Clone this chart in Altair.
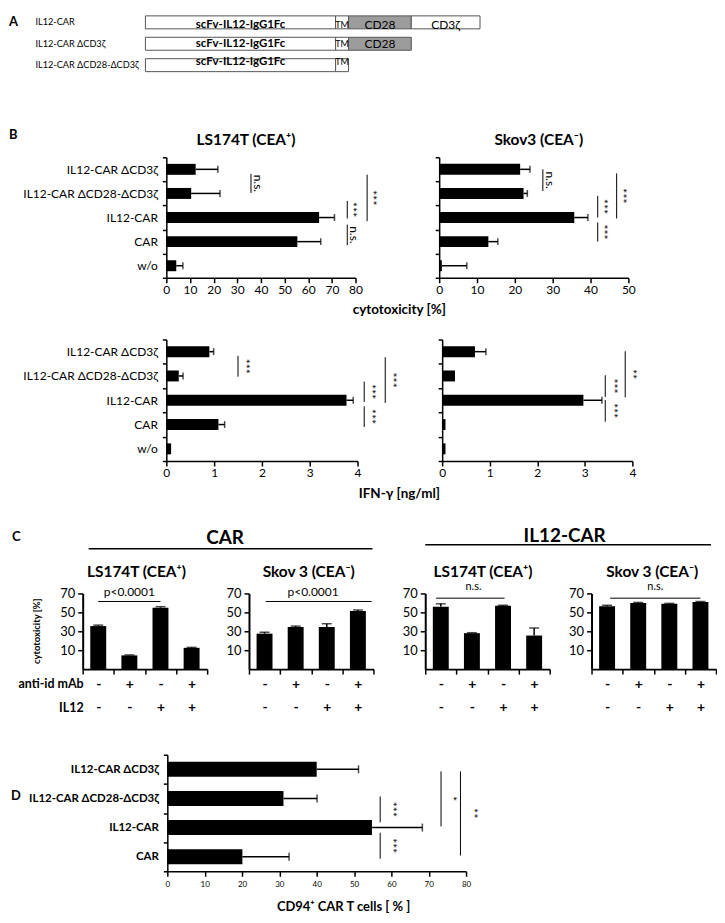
import altair as alt
import pandas as pd

FONT = "Lato"
W, H = 712, 902

# ---------------- Panel A : construct maps ----------------
a_constructs = ["IL12-CAR", "IL12-CAR ΔCD3ζ", "IL12-CAR ΔCD28-ΔCD3ζ"]
a_domains = ["scFv-IL12-IgG1Fc", "TM", "CD28", "CD3ζ"]
a_domain_start = [0, 191, 204, 267]
a_domain_end = [191, 204, 267, 336]
a_domains_per_construct = [4, 3, 2]
a_domain_fill = ["#ffffff", "#ffffff", "#9c9c9c", "#ffffff"]

# ---------------- Panel B : cytotoxicity / IFN-gamma ----------------
b_groups = ["IL12-CAR ΔCD3ζ", "IL12-CAR ΔCD28-ΔCD3ζ", "IL12-CAR", "CAR", "w/o"]
ls_cyto_mean = [12.4, 10.5, 64.6, 55.4, 4.2]
ls_cyto_err = [9.4, 12.2, 6.5, 9.9, 2.8]
skov_cyto_mean = [21.4, 22.3, 35.7, 13.0, 0.7]
skov_cyto_err = [2.6, 1.0, 3.6, 2.5, 6.6]
ls_ifn_mean = [0.90, 0.26, 3.77, 1.09, 0.10]
ls_ifn_err = [0.09, 0.09, 0.14, 0.13, 0.0]
skov_ifn_mean = [0.69, 0.27, 2.97, 0.07, 0.07]
skov_ifn_err = [0.23, 0.0, 0.39, 0.0, 0.0]

# significance brackets (x in data units, y in group units counted from the top)
ls_cyto_sig_x = [35.8, 76.5, 76.5, 84.9]
ls_cyto_sig_y1 = [0.69, 1.81, 2.79, 0.72]
ls_cyto_sig_y2 = [1.48, 2.54, 3.65, 2.65]
ls_cyto_sig_label = ["n.s.", "***", "n.s.", "***"]
ls_cyto_sig_tx = [38.8, 78.7, 79.4, 87.1]

skov_cyto_sig_x = [27.4, 41.9, 41.9, 46.9]
skov_cyto_sig_y1 = [0.5, 1.6, 2.7, 0.67]
skov_cyto_sig_y2 = [1.4, 2.5, 3.5, 2.54]
skov_cyto_sig_label = ["n.s.", "***", "***", "***"]
skov_cyto_sig_tx = [29.4, 43.3, 43.3, 48.3]

ls_ifn_sig_x = [1.50, 4.14, 4.14, 4.58]
ls_ifn_sig_y1 = [0.67, 1.73, 2.75, 0.73]
ls_ifn_sig_y2 = [1.53, 2.57, 3.60, 2.61]
ls_ifn_sig_label = ["***", "***", "***", "***"]
ls_ifn_sig_tx = [1.64, 4.28, 4.28, 4.72]

skov_ifn_sig_x = [3.43, 3.43, 3.85]
skov_ifn_sig_y1 = [1.47, 2.49, 0.48]
skov_ifn_sig_y2 = [2.36, 3.38, 2.38]
skov_ifn_sig_label = ["***", "***", "**"]
skov_ifn_sig_tx = [3.60, 3.60, 4.0]

# ---------------- Panel C : blocking ----------------
c_conditions = ["-|-", "+|-", "-|+", "+|+"]   # anti-id mAb | IL12
c_yticks = [10, 30, 50, 70]
c_ymin, c_ymax = -10, 70
c1_mean = [35.5, 4.5, 55.0, 12.5]
c1_err = [1.0, 0.5, 1.0, 0.5]
c2_mean = [27.5, 34.5, 34.5, 51.5]
c2_err = [1.5, 1.0, 3.5, 1.0]
c3_mean = [56.0, 28.0, 57.0, 25.5]
c3_err = [3.0, 0.5, 0.5, 8.0]
c4_mean = [56.5, 60.0, 59.0, 61.0]
c4_err = [1.0, 0.5, 0.5, 0.5]

# ---------------- Panel D : CD94 ----------------
d_groups = ["IL12-CAR ΔCD3ζ", "IL12-CAR ΔCD28-ΔCD3ζ", "IL12-CAR", "CAR"]
d_mean = [40.0, 31.1, 54.8, 20.1]
d_err = [11.2, 9.0, 13.5, 12.5]
d_sig_x = [57.0, 57.0, 73.3, 78.5]
d_sig_y1 = [1.43, 2.68, 0.57, 0.57]
d_sig_y2 = [2.32, 3.57, 2.46, 3.46]
d_sig_label = ["***", "***", "*", "**"]
d_sig_tx = [60.2, 60.2, 76.3, 81.8]

# ---------------- layout (pixel frame of the whole figure) ----------------
ROW_A, ROW_B1, ROW_B2, ROW_C, ROW_D = 0, 142, 325, 580, 742

blank = pd.DataFrame({"k": [0]})
layers = []


def note(text, x, y, size, weight="normal", align="center", angle=0):
    layers.append(alt.Chart(blank).mark_text(
        text=text, fontSize=size, fontWeight=weight, align=align, angle=angle,
        baseline="middle", color="black", font=FONT
    ).encode(x=alt.value(x), y=alt.value(y)))


def note_rule(x1, x2, y, width=1.5):
    layers.append(alt.Chart(blank).mark_rule(color="black", strokeWidth=width).encode(
        x=alt.value(x1), x2=alt.value(x2), y=alt.value(y)))


# ---------------- Panel A ----------------
rows = []
for ci, c in enumerate(a_constructs):
    for di in range(a_domains_per_construct[ci]):
        rows.append({"construct": c, "domain": a_domains[di],
                     "start": a_domain_start[di], "end": a_domain_end[di],
                     "fill": a_domain_fill[di]})
a_df = pd.DataFrame(rows)
A_X0 = 138
a_xs = alt.Scale(domain=[0, 336], range=[A_X0, A_X0 + 336], nice=False, zero=False)
a_ys = alt.Scale(domain=a_constructs, range=[ROW_A, ROW_A + 56],
                 paddingInner=0.395, paddingOuter=0)
a_yax = alt.Axis(title=None, orient="left", offset=-A_X0, ticks=False, domain=False,
                 labelAlign="left", labelPadding=111, labelFontSize=9.2, labelLimit=300)
a_base = alt.Chart(a_df)
layers.append(a_base.mark_bar(stroke="#555555", strokeWidth=1).encode(
    x=alt.X("start:Q", scale=a_xs, axis=None), x2="end:Q",
    y=alt.Y("construct:N", scale=a_ys, sort=a_constructs, axis=a_yax),
    fill=alt.Fill("fill:N", scale=None)))


def a_text(domain, size, weight):
    layers.append(a_base.transform_filter(alt.datum.domain == domain).transform_calculate(
        mid="(datum.start + datum.end) / 2"
    ).mark_text(fontSize=size, fontWeight=weight, color="black", font=FONT).encode(
        x=alt.X("mid:Q", scale=a_xs, axis=None),
        y=alt.Y("construct:N", scale=a_ys, sort=a_constructs, axis=None),
        text="domain:N"))


a_text("scFv-IL12-IgG1Fc", 11.5, "bold")
a_text("TM", 9, "normal")
a_text("CD28", 12, "normal")
a_text("CD3ζ", 12, "normal")
note("A", 1, ROW_A + 6, 13, "bold", align="left")


# ---------------- horizontal bar panels (B, D) ----------------
def hbar(cats, means, errs, xmax, xstep, x0, y0, width, height, bar_px, cap_px,
         sx, sy1, sy2, slab, stx, show_labels=True, label_size=12,
         label_bold=False, tick_size=12, ast_size=12, ns_size=12, tick_pad=2):
    n = len(cats)
    df = pd.DataFrame({"cat": cats, "mean": means, "err": errs})
    df["end"] = df["mean"] + df["err"]
    xs = alt.Scale(domain=[0, xmax], range=[x0, x0 + width], nice=False, zero=False)
    xax = alt.Axis(title=None, orient="bottom", offset=(y0 + height) - H,
                   values=list(range(0, xmax + 1, xstep)), labelFontSize=tick_size,
                   labelFlush=False, labelOverlap=False, tickSize=5, tickWidth=1.5,
                   domainWidth=1.5, labelPadding=tick_pad, grid=False)
    ys = alt.Scale(domain=cats, range=[y0, y0 + height], paddingInner=0, paddingOuter=0)
    yax = alt.Axis(title=None, orient="left", offset=-x0, tickBand="extent",
                   labels=show_labels, labelFontSize=label_size,
                   labelFontWeight="bold" if label_bold else "normal",
                   labelPadding=5, tickSize=4, tickWidth=1.5, domainWidth=1.5,
                   labelLimit=300)
    base = alt.Chart(df)
    layers.append(base.mark_bar(color="black", size=bar_px).encode(
        x=alt.X("mean:Q", scale=xs, axis=xax),
        y=alt.Y("cat:N", sort=cats, scale=ys, axis=yax)))
    Yn = alt.Y("cat:N", sort=cats, scale=ys, axis=None)
    eb = base.transform_filter("datum.err > 0")
    layers.append(eb.mark_rule(color="black", strokeWidth=1.5).encode(
        x=alt.X("mean:Q", scale=xs, axis=None), x2="end:Q", y=Yn))
    layers.append(eb.mark_tick(color="black", thickness=1.5, size=cap_px).encode(
        x=alt.X("end:Q", scale=xs, axis=None), y=Yn))

    sdf = pd.DataFrame({"x": sx, "y1": sy1, "y2": sy2, "label": slab, "tx": stx})
    qy = alt.Scale(domain=[0, n], range=[y0, y0 + height], nice=False, zero=False)
    layers.append(alt.Chart(sdf).mark_rule(color="black", strokeWidth=1).encode(
        x=alt.X("x:Q", scale=xs, axis=None),
        y=alt.Y("y1:Q", scale=qy, axis=None), y2="y2:Q"))
    sb = alt.Chart(sdf).transform_calculate(ym="(datum.y1 + datum.y2) / 2")
    for cond, fs in (("datum.label == 'n.s.'", ns_size), ("datum.label != 'n.s.'", ast_size)):
        layers.append(sb.transform_filter(cond).mark_text(
            angle=90, fontSize=fs, color="black", font=FONT, baseline="middle").encode(
            x=alt.X("tx:Q", scale=xs, axis=None),
            y=alt.Y("ym:Q", scale=qy, axis=None), text="label:N"))


hbar(b_groups, ls_cyto_mean, ls_cyto_err, 80, 10, 159, ROW_B1, 190, 121, 11, 7,
     ls_cyto_sig_x, ls_cyto_sig_y1, ls_cyto_sig_y2, ls_cyto_sig_label, ls_cyto_sig_tx)
hbar(b_groups, skov_cyto_mean, skov_cyto_err, 50, 10, 433, ROW_B1, 190, 121, 11, 7,
     skov_cyto_sig_x, skov_cyto_sig_y1, skov_cyto_sig_y2, skov_cyto_sig_label,
     skov_cyto_sig_tx, show_labels=False)
hbar(b_groups, ls_ifn_mean, ls_ifn_err, 4, 1, 159, ROW_B2, 192, 122, 11, 7,
     ls_ifn_sig_x, ls_ifn_sig_y1, ls_ifn_sig_y2, ls_ifn_sig_label, ls_ifn_sig_tx)
hbar(b_groups, skov_ifn_mean, skov_ifn_err, 4, 1, 436, ROW_B2, 191, 122, 11, 7,
     skov_ifn_sig_x, skov_ifn_sig_y1, skov_ifn_sig_y2, skov_ifn_sig_label,
     skov_ifn_sig_tx, show_labels=False)
hbar(d_groups, d_mean, d_err, 80, 10, 160, ROW_D, 300, 117, 15, 8,
     d_sig_x, d_sig_y1, d_sig_y2, d_sig_label, d_sig_tx,
     label_size=11.5, label_bold=True, tick_size=8, tick_pad=4)

note("B", 1, ROW_B1 - 22, 13, "bold", align="left")
note("LS174T (CEA⁺)", 239, ROW_B1 - 17, 15.5, "bold")
note("Skov3 (CEA⁻)", 533, ROW_B1 - 17, 15.5, "bold")
note("cytotoxicity [%]", 393, ROW_B1 + 153, 13.5, "bold")
note("IFN-γ [ng/ml]", 393, ROW_B2 + 155, 13.5, "bold")
note("D", 3, ROW_D + 41, 13, "bold", align="left")
note("CD94⁺ CAR T cells [ % ]", 337, ROW_D + 153, 13, "bold")


# ---------------- vertical bar panels (C) ----------------
def cbar(means, errs, x0, sx1, sx2, sy, slab, stx, sty, ssize):
    y0, h, w = ROW_C, 76, 125
    df = pd.DataFrame({"cond": c_conditions, "mean": means, "err": errs})
    df["end"] = df["mean"] + df["err"]
    xs = alt.Scale(domain=c_conditions, range=[x0, x0 + w], paddingInner=0, paddingOuter=0)
    xax = alt.Axis(title=None, orient="bottom", offset=(y0 + h) - H, tickBand="extent",
                   labelExpr="split(datum.label, '|')", labelAngle=0, labelFontSize=14,
                   labelFontWeight="bold", labelLineHeight=23.7, labelBaseline="top",
                   labelPadding=3, tickSize=5, tickWidth=1.5, domainWidth=2)
    ys = alt.Scale(domain=[c_ymin, c_ymax], range=[y0 + h, y0], nice=False, zero=False)
    yax = alt.Axis(title=None, orient="left", offset=-x0, values=c_yticks,
                   labelFontSize=13, tickSize=5, tickWidth=1.5, domainWidth=2,
                   labelPadding=3, grid=False)
    base = alt.Chart(df)
    layers.append(base.mark_bar(color="black", size=16).encode(
        x=alt.X("cond:N", sort=c_conditions, scale=xs, axis=xax),
        y=alt.Y("mean:Q", scale=ys, axis=yax), y2=alt.datum(c_ymin)))
    Xn = alt.X("cond:N", sort=c_conditions, scale=xs, axis=None)
    layers.append(base.mark_rule(color="black", strokeWidth=1.5).encode(
        x=Xn, y=alt.Y("mean:Q", scale=ys, axis=None), y2="end:Q"))
    layers.append(base.mark_tick(color="black", thickness=1.5, size=10).encode(
        x=Xn, y=alt.Y("end:Q", scale=ys, axis=None)))
    qx = alt.Scale(domain=[0, 4], range=[x0, x0 + w], nice=False, zero=False)
    sdf = pd.DataFrame({"x1": [sx1], "x2": [sx2], "y": [sy], "tx": [stx],
                        "ty": [sty], "label": [slab]})
    layers.append(alt.Chart(sdf).mark_rule(color="black", strokeWidth=1).encode(
        x=alt.X("x1:Q", scale=qx, axis=None), x2="x2:Q",
        y=alt.Y("y:Q", scale=ys, axis=None)))
    layers.append(alt.Chart(sdf).mark_text(fontSize=ssize, color="black", font=FONT).encode(
        x=alt.X("tx:Q", scale=qx, axis=None), y=alt.Y("ty:Q", scale=ys, axis=None),
        text="label:N"))


cbar(c1_mean, c1_err, 75, 0.5, 2.5, 61.5, "p<0.0001", 1.5, 71.5, 12)
cbar(c2_mean, c2_err, 242, 0.54, 3.94, 61.5, "p<0.0001", 2.06, 71.5, 12)
cbar(c3_mean, c3_err, 419, 0.35, 2.55, 65.0, "n.s.", 1.55, 77.0, 11)
cbar(c4_mean, c4_err, 586, 0.6, 3.5, 65.0, "n.s.", 2.05, 77.0, 11)

note("C", 4, ROW_C - 57, 13, "bold", align="left")
note("CAR", 218, ROW_C - 56, 19, "bold")
note_rule(81, 366, ROW_C - 45)
note("IL12-CAR", 559, ROW_C - 58, 19, "bold")
note_rule(419, 706, ROW_C - 49)
note("LS174T (CEA⁺)", 129, ROW_C - 22, 15.5, "bold")
note("Skov 3 (CEA⁻)", 302, ROW_C - 22, 15.5, "bold")
note("LS174T (CEA⁺)", 477, ROW_C - 22, 15.5, "bold")
note("Skov 3 (CEA⁻)", 647, ROW_C - 22, 15.5, "bold")
note("anti-id mAb", 76, ROW_C + 91, 12.5, "bold", align="right")
note("IL12", 76, ROW_C + 114.7, 12.5, "bold", align="right")
note("cytotoxicity [%]", 29, ROW_C + 38, 9.5, "bold", angle=270)

chart = alt.layer(*layers).resolve_scale(
    x="independent", y="independent"
).resolve_axis(x="independent", y="independent").properties(
    width=W, height=H, padding=0
).configure_view(stroke=None).configure_axis(
    labelFont=FONT, titleFont=FONT, labelColor="black", titleColor="black",
    domainColor="black", tickColor="black", grid=False
).configure_text(font=FONT)

chart.save("out.html", embed_options={"renderer": "svg", "actions": False})
